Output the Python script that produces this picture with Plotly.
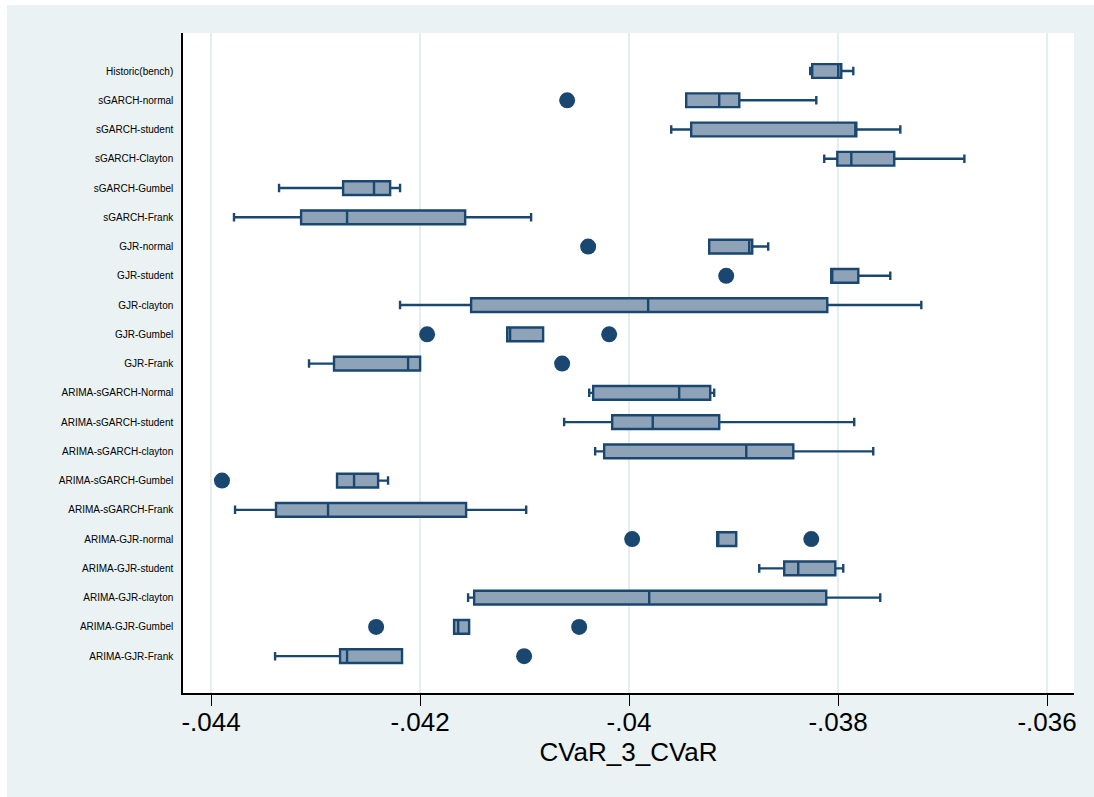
import plotly.graph_objects as go

categories = [
    "Historic(bench)", "sGARCH-normal", "sGARCH-student", "sGARCH-Clayton",
    "sGARCH-Gumbel", "sGARCH-Frank", "GJR-normal", "GJR-student", "GJR-clayton",
    "GJR-Gumbel", "GJR-Frank", "ARIMA-sGARCH-Normal", "ARIMA-sGARCH-student",
    "ARIMA-sGARCH-clayton", "ARIMA-sGARCH-Gumbel", "ARIMA-sGARCH-Frank",
    "ARIMA-GJR-normal", "ARIMA-GJR-student", "ARIMA-GJR-clayton",
    "ARIMA-GJR-Gumbel", "ARIMA-GJR-Frank",
]

lower_whisker = [-0.038266, -0.039453, -0.039596, -0.038132, -0.043349, -0.043780,
                 -0.039233, -0.038065, -0.042191, -0.041166, -0.043062, -0.040381,
                 -0.040621, -0.040324, -0.042794, -0.043770, -0.039156, -0.038754,
                 -0.041540, -0.041674, -0.043387]
q1 = [-0.038247, -0.039453, -0.039405, -0.038007, -0.042736, -0.043138,
      -0.039233, -0.038065, -0.041511, -0.041166, -0.042823, -0.040343,
      -0.040161, -0.040238, -0.042794, -0.043378, -0.039156, -0.038515,
      -0.041482, -0.041674, -0.042765]
median = [-0.037998, -0.039137, -0.037825, -0.037873, -0.042440, -0.042698,
          -0.038850, -0.038065, -0.039817, -0.041138, -0.042114, -0.039520,
          -0.039773, -0.038878, -0.042631, -0.042880, -0.039156, -0.038381,
          -0.039807, -0.041635, -0.042698]
q3 = [-0.037969, -0.038945, -0.037825, -0.037462, -0.042286, -0.041568,
      -0.038821, -0.037806, -0.038103, -0.040822, -0.041999, -0.039223,
      -0.039137, -0.038428, -0.042401, -0.041559, -0.038974, -0.038026,
      -0.038113, -0.041530, -0.042172]
upper_whisker = [-0.037854, -0.038208, -0.037404, -0.036791, -0.042191, -0.040937,
                 -0.038668, -0.037500, -0.037203, -0.040822, -0.041999, -0.039185,
                 -0.037845, -0.037663, -0.042306, -0.040984, -0.038974, -0.037950,
                 -0.037596, -0.041530, -0.042172]

outlier_category = ["sGARCH-normal", "GJR-normal", "GJR-student", "GJR-Gumbel",
                    "GJR-Gumbel", "GJR-Frank", "ARIMA-sGARCH-Gumbel",
                    "ARIMA-GJR-normal", "ARIMA-GJR-normal", "ARIMA-GJR-Gumbel",
                    "ARIMA-GJR-Gumbel", "ARIMA-GJR-Frank"]
outlier_value = [-0.040592, -0.040391, -0.039070, -0.041932, -0.040190, -0.040640,
                 -0.043895, -0.039970, -0.038256, -0.042420, -0.040477, -0.041004]

x_tickvals = [-0.044, -0.042, -0.040, -0.038, -0.036]
x_ticktext = ["-.044", "-.042", "-.04", "-.038", "-.036"]

NAVY = "#1A476F"
FILL = "#8FA3B8"
BG = "#EAF2F3"

pos = list(range(len(categories)))
idx = {c: i for i, c in enumerate(categories)}

fig = go.Figure()
fig.add_trace(go.Box(
    orientation="h",
    y=pos,
    q1=q1, median=median, q3=q3,
    lowerfence=lower_whisker, upperfence=upper_whisker,
    width=0.47,
    whiskerwidth=0.62,
    fillcolor=FILL,
    line=dict(color=NAVY, width=2.4),
    boxpoints=False,
    hoverinfo="skip",
    showlegend=False,
))
fig.add_trace(go.Scatter(
    x=outlier_value,
    y=[idx[c] for c in outlier_category],
    mode="markers",
    marker=dict(size=16, color=NAVY, line=dict(width=0)),
    showlegend=False,
    hoverinfo="skip",
))

W, H = 1094, 797
L, R, T, B = 183, 1074, 33, 693
pw, ph = R - L, B - T

def px(xp):
    return (xp - L) / pw

def py(yp):
    return (B - yp) / ph

shapes = [
    dict(type="rect", xref="paper", yref="paper", x0=px(0), x1=px(7), y0=py(W), y1=py(0),
         fillcolor="white", line=dict(width=0), layer="below"),
    dict(type="rect", xref="paper", yref="paper", x0=px(0), x1=px(W), y0=py(5), y1=py(0),
         fillcolor="white", line=dict(width=0), layer="below"),
]

fig.update_layout(
    width=W, height=H,
    margin=dict(l=L, r=W - R, t=T, b=H - B),
    paper_bgcolor=BG,
    plot_bgcolor="white",
    font=dict(family="Liberation Sans, Arial, Helvetica, sans-serif", color="black"),
    shapes=shapes,
    xaxis=dict(
        range=[-0.044268, -0.035742],
        tickvals=x_tickvals, ticktext=x_ticktext,
        tickfont=dict(size=26),
        ticks="outside", ticklen=11, tickwidth=1.2, tickcolor="black",
        showgrid=True, gridcolor="#E4EEF0", gridwidth=2,
        zeroline=False,
        showline=True, linecolor="black", linewidth=1.5,
        ticklabelstandoff=-6,
        title=dict(text="CVaR_3_CVaR", font=dict(size=26), standoff=4),
    ),
    yaxis=dict(
        range=[21.26, -1.30],
        tickvals=pos, ticktext=categories,
        tickfont=dict(size=10),
        ticks="", showgrid=False, zeroline=False,
        showline=True, linecolor="black", linewidth=1.5,
        ticklabelstandoff=6,
    ),
)

fig.write_html("out.html")
